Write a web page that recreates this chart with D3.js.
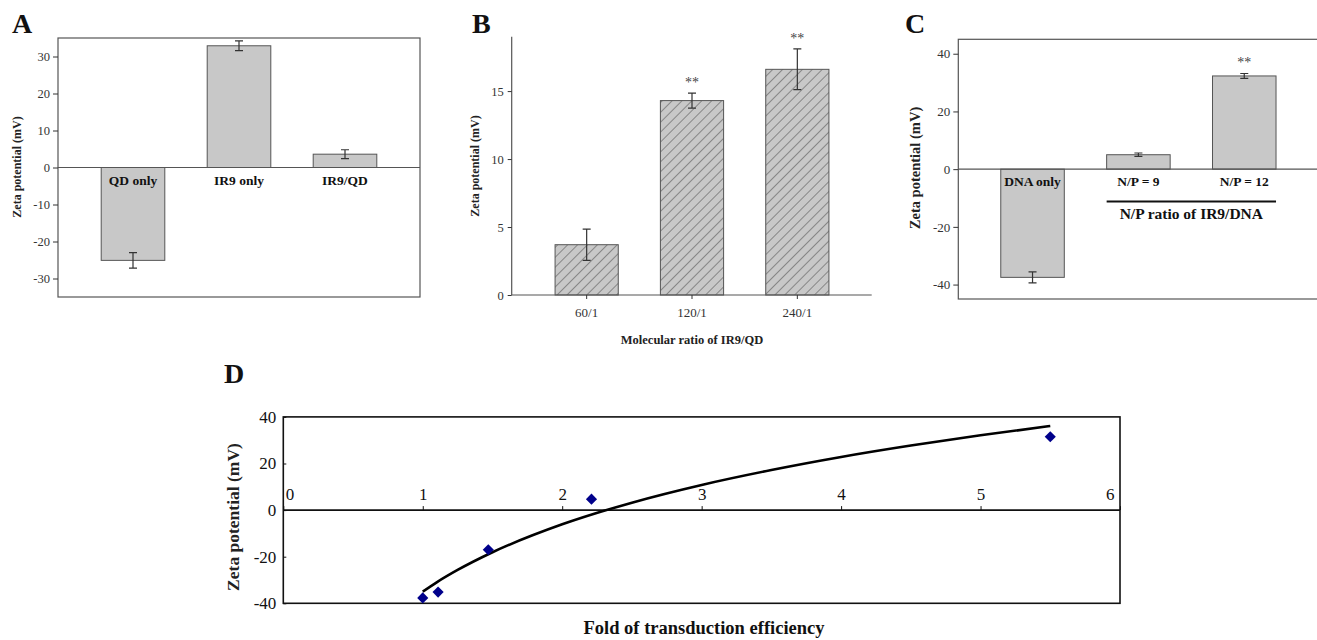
<!DOCTYPE html>
<html>
<head>
<meta charset="utf-8">
<script src="https://cdn.jsdelivr.net/npm/d3@7"></script>
<style>
  body { margin: 0; background: #fff; }
  svg { display: block; font-family: "Liberation Serif", "Times New Roman", serif; }
  svg text { font-family: "Liberation Serif", "Times New Roman", serif; }
</style>
</head>
<body>
<script>
// panel A
const catsA = ["QD only", "IR9 only", "IR9/QD"];
const valsA = [-25.1, 32.9, 3.6];
const errA = [2.1, 1.3, 1.2];
const ticksA = [-30, -20, -10, 0, 10, 20, 30];

// panel B
const catsB = ["60/1", "120/1", "240/1"];
const valsB = [3.7, 14.3, 16.6];
const errB = [1.15, 0.55, 1.5];
const sigB = ["", "**", "**"];
const ticksB = [0, 5, 10, 15];

// panel C
const catsC = ["DNA only", "N/P = 9", "N/P = 12"];
const valsC = [-37.5, 5.0, 32.3];
const errC = [1.9, 0.6, 0.85];
const sigC = ["", "", "**"];
const ticksC = [-40, -20, 0, 20, 40];

// panel D
const foldD = [1.0, 1.11, 1.47, 2.21, 5.5];
const zetaD = [-37.7, -35.2, -17.0, 4.7, 31.5];
const fitX = [1, 1.1, 1.25, 1.5, 2, 2.5, 3, 3.5, 4, 4.5, 5, 5.5];
const fitY = [-35, -31.0, -25.7, -18.1, -6.1, 3.2, 10.8, 17.2, 22.8, 27.7, 32.1, 36.1];
const ticksDx = [0, 1, 2, 3, 4, 5, 6];
const ticksDy = [-40, -20, 0, 20, 40];

let w = 1317, h = 640;
let svg = d3.select("body").append("svg").attr("width", w).attr("height", h);
svg.append("rect").attr("width", w).attr("height", h).attr("fill", "#fff");

// hatch for panel B
let defs = svg.append("defs");
let pat = defs.append("pattern")
  .attr("id", "hatch")
  .attr("patternUnits", "userSpaceOnUse")
  .attr("width", 7).attr("height", 7)
  .attr("patternTransform", "rotate(45)");
pat.append("rect").attr("width", 7).attr("height", 7).attr("fill", "#c8c8c8");
pat.append("line").attr("x1", 0).attr("y1", 0).attr("x2", 0).attr("y2", 7)
  .attr("stroke", "#444").attr("stroke-width", 1);

let plain = d => String(d); // hyphen minus, no decimals

function panelLetter(t, x, y) {
  svg.append("text").text(t).attr("x", x).attr("y", y)
    .attr("font-size", "28px").attr("font-weight", "bold").attr("fill", "#111");
}

function yTitle(x, y, size) {
  svg.append("text").text("Zeta potential (mV)")
    .attr("transform", "translate(" + x + "," + y + ") rotate(-90)")
    .attr("text-anchor", "middle")
    .attr("font-size", size + "px").attr("font-weight", "bold").attr("fill", "#222");
}

function band(cats, x0, x1) {
  return d3.scaleBand().domain(cats).range([x0, x1]).paddingInner(0.4).paddingOuter(0.2);
}

function drawBars(g, cats, vals, errs, xScale, yScale, fill, sig) {
  let bars = g.selectAll(".bar").data(cats).enter().append("g");
  bars.append("rect")
    .attr("x", d => xScale(d))
    .attr("y", (d, i) => yScale(Math.max(0, vals[i])))
    .attr("width", xScale.bandwidth())
    .attr("height", (d, i) => Math.abs(yScale(vals[i]) - yScale(0)))
    .attr("fill", fill)
    .attr("stroke", "#555").attr("stroke-width", 1);

  // error bars
  bars.append("path")
    .attr("d", function (d, i) {
      let cx = xScale(d) + xScale.bandwidth() / 2;
      let y1 = yScale(vals[i] + errs[i]), y2 = yScale(vals[i] - errs[i]);
      return "M" + cx + "," + y1 + "V" + y2 +
        "M" + (cx - 4) + "," + y1 + "H" + (cx + 4) +
        "M" + (cx - 4) + "," + y2 + "H" + (cx + 4);
    })
    .attr("fill", "none").attr("stroke", "#333").attr("stroke-width", 1.2);

  if (sig) {
    bars.append("text")
      .text((d, i) => sig[i])
      .attr("x", d => xScale(d) + xScale.bandwidth() / 2)
      .attr("y", (d, i) => yScale(vals[i] + errs[i]) - 6)
      .attr("text-anchor", "middle")
      .attr("font-size", "14px").attr("fill", "#444");
  }
}

function styleAxis(a, size, color) {
  a.attr("font-family", null).attr("font-size", null);
  a.select(".domain").remove();
  a.selectAll("line").attr("stroke", color);
  a.selectAll("text").attr("font-size", size + "px").attr("fill", color)
    .style("font-family", "'Liberation Serif', 'Times New Roman', serif");
}

// ---------------- A ----------------
panelLetter("A", 12, 33);
let yA = d3.scaleLinear().domain([-35, 35]).range([297, 38]);
let xA = band(catsA, 80, 398);
let gA = svg.append("g");
gA.append("rect").attr("x", 58).attr("y", 38).attr("width", 362).attr("height", 259)
  .attr("fill", "none").attr("stroke", "#555").attr("stroke-width", 1.2);
drawBars(gA, catsA, valsA, errA, xA, yA, "#c8c8c8");
gA.append("line").attr("x1", 58).attr("x2", 420).attr("y1", yA(0)).attr("y2", yA(0))
  .attr("stroke", "#555").attr("stroke-width", 1.2);
gA.append("g").attr("transform", "translate(58,0)")
  .call(d3.axisLeft(yA).tickValues(ticksA).tickFormat(plain).tickSize(5).tickPadding(3))
  .call(a => styleAxis(a, 12.5, "#333"));
gA.selectAll(".lab").data(catsA).enter().append("text")
  .text(d => d)
  .attr("x", d => xA(d) + xA.bandwidth() / 2)
  .attr("y", yA(0) + 17)
  .attr("text-anchor", "middle")
  .attr("font-size", "13.5px").attr("font-weight", "bold").attr("fill", "#111");
yTitle(21, 167, 12);

// ---------------- B ----------------
panelLetter("B", 472, 33);
let yB = d3.scaleLinear().domain([0, 19]).range([295, 36.7]);
let xB = band(catsB, 534, 850);
let gB = svg.append("g");
drawBars(gB, catsB, valsB, errB, xB, yB, "url(#hatch)", sigB);
gB.append("line").attr("x1", 511.7).attr("x2", 511.7).attr("y1", 36.7).attr("y2", 295)
  .attr("stroke", "#555").attr("stroke-width", 1.2);
gB.append("line").attr("x1", 511.7).attr("x2", 871.7).attr("y1", 295).attr("y2", 295)
  .attr("stroke", "#555").attr("stroke-width", 1.2);
gB.append("g").attr("transform", "translate(511.7,0)")
  .call(d3.axisLeft(yB).tickValues(ticksB).tickFormat(plain).tickSize(4).tickPadding(4))
  .call(a => styleAxis(a, 12.5, "#333"));
gB.append("g").attr("transform", "translate(0,295)")
  .call(d3.axisBottom(xB).tickSize(4).tickPadding(9))
  .call(a => styleAxis(a, 13, "#333"));
svg.append("text").text("Molecular ratio of IR9/QD")
  .attr("x", 692).attr("y", 344).attr("text-anchor", "middle")
  .attr("font-size", "12.5px").attr("font-weight", "bold").attr("fill", "#222");
yTitle(479, 166, 12);

// ---------------- C ----------------
panelLetter("C", 905, 33);
let yC = d3.scaleLinear().domain([-45, 45]).range([299, 39.3]);
let xC = band(catsC, 979.6, 1297.2);
let gC = svg.append("g");
gC.append("rect").attr("x", 958.3).attr("y", 39.3).attr("width", 370).attr("height", 259.7)
  .attr("fill", "none").attr("stroke", "#555").attr("stroke-width", 1.2);
drawBars(gC, catsC, valsC, errC, xC, yC, "#c8c8c8", sigC);
gC.append("line").attr("x1", 958.3).attr("x2", 1317).attr("y1", yC(0)).attr("y2", yC(0))
  .attr("stroke", "#555").attr("stroke-width", 1.2);
gC.append("g").attr("transform", "translate(958.3,0)")
  .call(d3.axisLeft(yC).tickValues(ticksC).tickFormat(plain).tickSize(5).tickPadding(3))
  .call(a => styleAxis(a, 13, "#333"));
gC.selectAll(".lab").data(catsC).enter().append("text")
  .text(d => d)
  .attr("x", d => xC(d) + xC.bandwidth() / 2)
  .attr("y", yC(0) + 17)
  .attr("text-anchor", "middle")
  .attr("font-size", "13.5px").attr("font-weight", "bold").attr("fill", "#111");
let npL = xC(catsC[1]), npR = xC(catsC[2]) + xC.bandwidth();
gC.append("line").attr("x1", npL).attr("x2", npR).attr("y1", 201.5).attr("y2", 201.5)
  .attr("stroke", "#111").attr("stroke-width", 2);
gC.append("text").text("N/P ratio of IR9/DNA")
  .attr("x", (npL + npR) / 2).attr("y", 219).attr("text-anchor", "middle")
  .attr("font-size", "15.5px").attr("font-weight", "bold").attr("fill", "#111");
yTitle(920, 168, 14.5);

// ---------------- D ----------------
panelLetter("D", 224, 383);
let xD = d3.scaleLinear().domain([0, 6]).range([283.3, 1120]);
let yD = d3.scaleLinear().domain([-40, 40]).range([603.3, 416.9]);
let gD = svg.append("g");
gD.append("rect").attr("x", 283.3).attr("y", 416.9).attr("width", 1120 - 283.3).attr("height", 603.3 - 416.9)
  .attr("fill", "none").attr("stroke", "#111").attr("stroke-width", 1.6);
gD.append("line").attr("x1", 283.3).attr("x2", 1120).attr("y1", yD(0)).attr("y2", yD(0))
  .attr("stroke", "#111").attr("stroke-width", 1.6);

gD.append("g").attr("transform", "translate(283.3,0)")
  .call(d3.axisLeft(yD).tickValues(ticksDy).tickFormat(plain).tickSize(-3).tickPadding(7))
  .call(a => styleAxis(a, 17, "#111"));
let axD = gD.append("g").attr("transform", "translate(0," + yD(0) + ")")
  .call(d3.axisTop(xD).tickValues(ticksDx).tickFormat(plain).tickSize(4).tickPadding(6))
  .call(a => styleAxis(a, 17, "#111"));
axD.selectAll(".tick text")
  .attr("text-anchor", d => d === 0 ? "start" : d === 6 ? "end" : "middle")
  .attr("dx", d => d === 0 ? 2 : d === 6 ? -6 : 0);

let fit = fitX.map((x, i) => [x, fitY[i]]);
gD.append("path").datum(fit)
  .attr("d", d3.line().x(d => xD(d[0])).y(d => yD(d[1])).curve(d3.curveMonotoneX))
  .attr("fill", "none").attr("stroke", "#000").attr("stroke-width", 2.6);

gD.selectAll(".pt").data(foldD).enter().append("path")
  .attr("d", d3.symbol().type(d3.symbolSquare).size(62))
  .attr("transform", (d, i) => "translate(" + xD(d) + "," + yD(zetaD[i]) + ") rotate(45)")
  .attr("fill", "#00008b");

svg.append("text").text("Fold of transduction efficiency")
  .attr("x", 704).attr("y", 634).attr("text-anchor", "middle")
  .attr("font-size", "18.5px").attr("font-weight", "bold").attr("fill", "#111");
yTitle(239, 517, 17.5);
</script>
</body>
</html>
